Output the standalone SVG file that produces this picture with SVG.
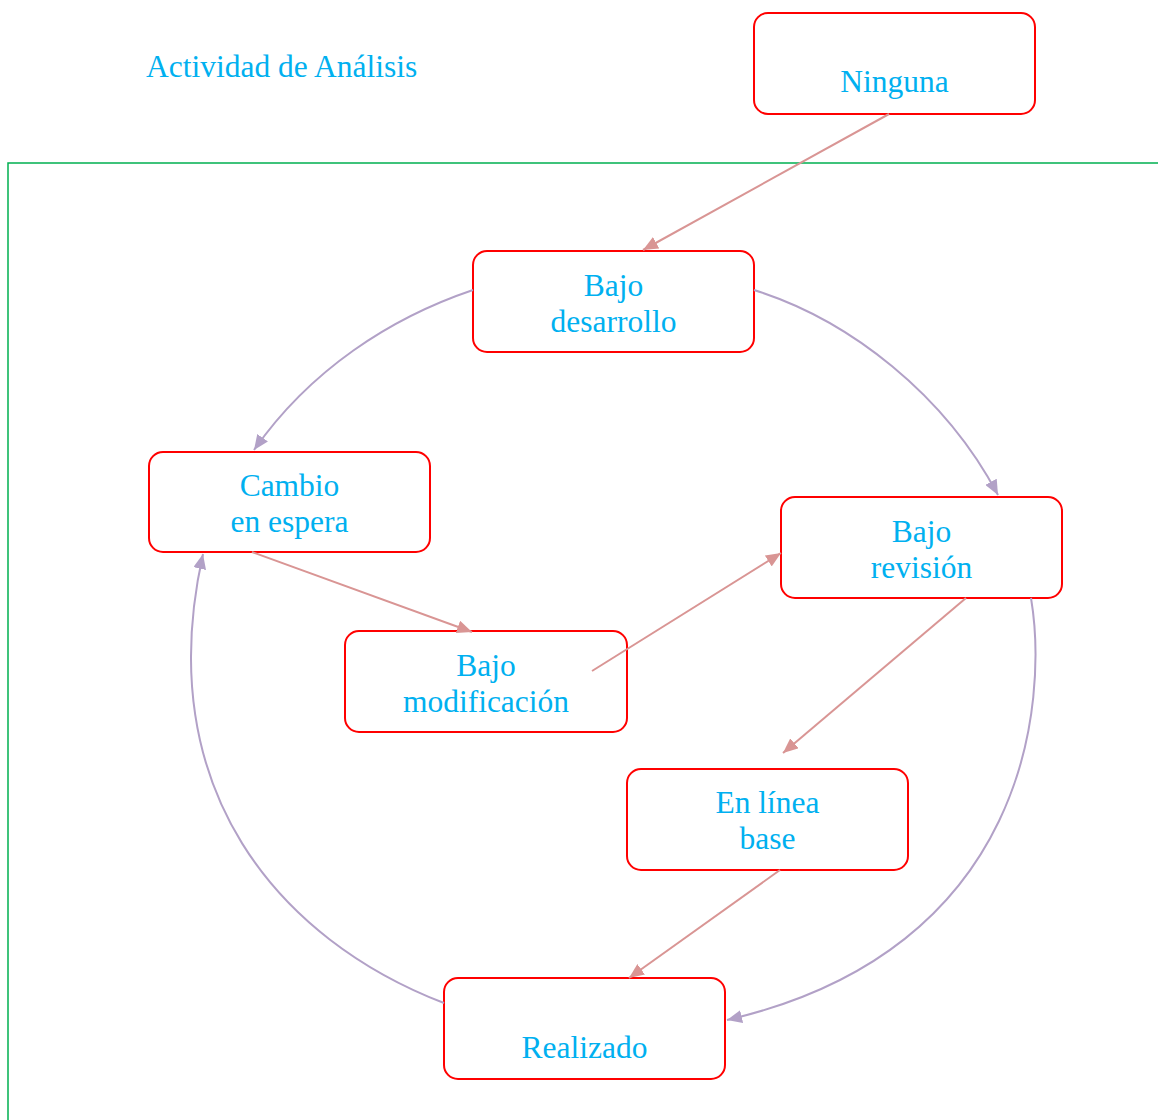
<svg xmlns="http://www.w3.org/2000/svg" width="1158" height="1120" viewBox="0 0 1158 1120">
<style>
.box{fill:#fff;stroke:#ff0000;stroke-width:2}
.t{font-family:"Liberation Serif","Times New Roman",serif;font-size:31.5px;fill:#00b0f0;text-anchor:middle}
.red{fill:none;stroke:#d99594;stroke-width:2}
.pur{fill:none;stroke:#b2a1c7;stroke-width:2}
</style>
<defs>
<marker id="ar" viewBox="0 0 15 13" refX="15" refY="6.5" markerWidth="15" markerHeight="13" markerUnits="userSpaceOnUse" orient="auto"><path d="M0,0L15,6.5L0,13z" fill="#d99594"/></marker>
<marker id="ap" viewBox="0 0 15 13" refX="15" refY="6.5" markerWidth="15" markerHeight="13" markerUnits="userSpaceOnUse" orient="auto"><path d="M0,0L15,6.5L0,13z" fill="#b2a1c7"/></marker>
</defs>
<path d="M8,1120V163H1158" fill="none" stroke="#00b050" stroke-width="1.5"/>
<text class="t" x="146" y="77" style="text-anchor:start">Actividad de Análisis</text>
<g id="ninguna"><rect class="box" x="754" y="13" width="281" height="101" rx="14"/><text class="t" x="894.5" y="92">Ninguna</text></g>
<g id="bajo-desarrollo"><rect class="box" x="473" y="251" width="281" height="101" rx="14"/><text class="t" x="613.5" y="296">Bajo</text><text class="t" x="613.5" y="332">desarrollo</text></g>
<g id="cambio-espera"><rect class="box" x="149" y="452" width="281" height="100" rx="14"/><text class="t" x="289.5" y="496">Cambio</text><text class="t" x="289.5" y="532">en espera</text></g>
<g id="bajo-revision"><rect class="box" x="781" y="497" width="281" height="101" rx="14"/><text class="t" x="921.5" y="542">Bajo</text><text class="t" x="921.5" y="578">revisión</text></g>
<g id="bajo-modificacion"><rect class="box" x="345" y="631" width="282" height="101" rx="14"/><text class="t" x="486" y="676">Bajo</text><text class="t" x="486" y="712">modificación</text></g>
<g id="en-linea-base"><rect class="box" x="627" y="769" width="281" height="101" rx="14"/><text class="t" x="767.5" y="813">En línea</text><text class="t" x="767.5" y="849">base</text></g>
<g id="realizado"><rect class="box" x="444" y="978" width="281" height="101" rx="14"/><text class="t" x="584.5" y="1058">Realizado</text></g>
<g id="connectors">
<path class="red" d="M889,114L643,250" marker-end="url(#ar)"/>
<path class="pur" d="M473,290C390,318 310,370 254,450" marker-end="url(#ap)"/>
<path class="pur" d="M754,290C850,320 945,395 998,495" marker-end="url(#ap)"/>
<path class="red" d="M252,552L472,632" marker-end="url(#ar)"/>
<path class="red" d="M592,671L781,553" marker-end="url(#ar)"/>
<path class="red" d="M966,598L783,753" marker-end="url(#ar)"/>
<path class="red" d="M780,870L629,978" marker-end="url(#ar)"/>
<path class="pur" d="M1031,598C1048,700 1030,950 727,1020" marker-end="url(#ap)"/>
<path class="pur" d="M444,1003C280,940 150,790 203,554" marker-end="url(#ap)"/>
</g>
</svg>
